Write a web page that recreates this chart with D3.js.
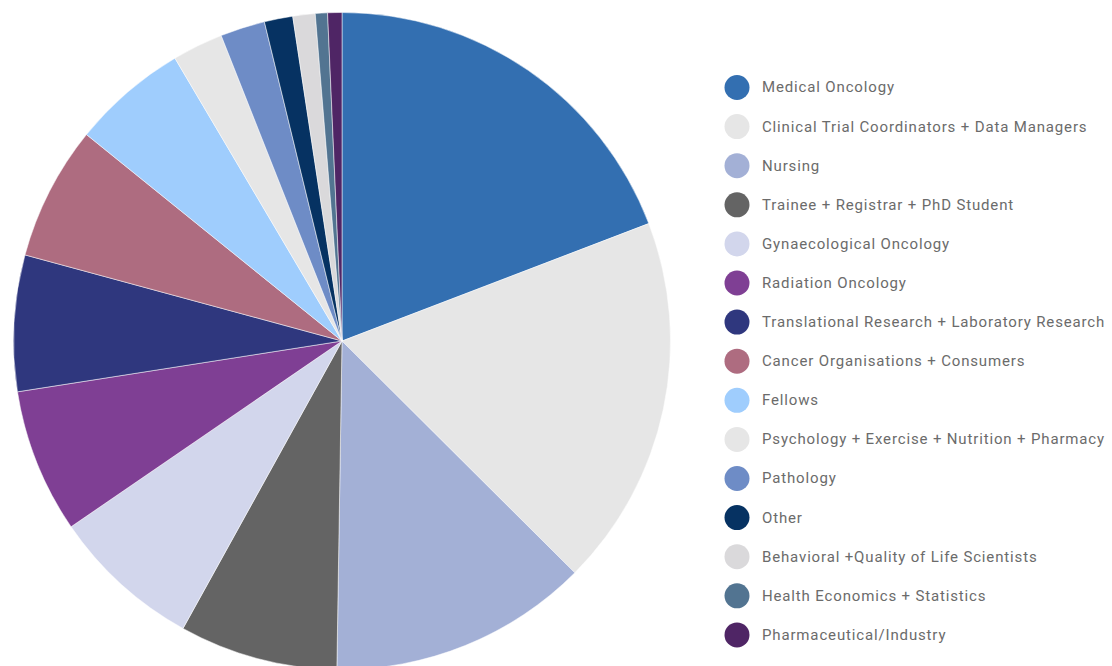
<!DOCTYPE html>
<html>
<head>
<meta charset="utf-8">
<script src="https://cdn.jsdelivr.net/npm/d3@7"></script>
<style>
  body { margin: 0; background: #fff; }
</style>
</head>
<body>
<div id="chart"></div>
<script>
const width = 1112;
const height = 666;

// categories in drawing order (clockwise from 12 o'clock)
const categories = [
  "Medical Oncology",
  "Clinical Trial Coordinators + Data Managers",
  "Nursing",
  "Trainee + Registrar + PhD Student",
  "Gynaecological Oncology",
  "Radiation Oncology",
  "Translational Research + Laboratory Research",
  "Cancer Organisations + Consumers",
  "Fellows",
  "Psychology + Exercise + Nutrition + Pharmacy",
  "Pathology",
  "Other",
  "Behavioral +Quality of Life Scientists",
  "Health Economics + Statistics",
  "Pharmaceutical/Industry"
];

// share of respondents (%)
const values = [19.2, 18.3, 12.8, 7.8, 7.4, 7.1, 6.7, 6.6, 5.7, 2.5, 2.2, 1.4, 1.1, 0.6, 0.7];

const colors = [
  "#336fb1", // medical oncology
  "#e6e6e6",
  "#a3b0d6",
  "#646464",
  "#d2d6ec",
  "#7f3f94",
  "#2f377e",
  "#ae6c80",
  "#9fcdfd",
  "#e6e6e6",
  "#6e8cc6",
  "#063262",
  "#dad9db",
  "#527491",
  "#4f2565"
];

const data = categories.map((c, i) => ({ name: c, value: values[i] }));

const color = d3.scaleOrdinal().domain(categories).range(colors);

const svg = d3.select("#chart")
  .append("svg")
  .attr("width", width)
  .attr("height", height);

const cx = 342, cy = 341, radius = 328.5;

const pie = d3.pie()
  .sort(null)
  .value(d => d.value);

const arc = d3.arc()
  .innerRadius(0)
  .outerRadius(radius);

svg.append("g")
  .attr("transform", `translate(${cx},${cy})`)
  .selectAll("path")
  .data(pie(data))
  .join("path")
  .attr("d", arc)
  .attr("fill", d => color(d.data.name))
  .attr("stroke", "#fff")
  .attr("stroke-width", 0.5);

// legend
const legend = svg.append("g")
  .attr("transform", "translate(737,87.5)");

const rowH = 39.1;

const items = legend.selectAll("g.legend-item")
  .data(categories)
  .join("g")
  .attr("class", "legend-item")
  .attr("transform", (d, i) => `translate(0,${i * rowH})`);

items.append("circle")
  .attr("r", 12.5)
  .attr("fill", d => color(d));

items.append("text")
  .attr("x", 25)
  .attr("dy", "0.33em")
  .style("font-family", "Roboto, sans-serif")
  .style("font-size", "15px")
  .style("letter-spacing", "0.85px")
  .style("fill", "#6b6b6b")
  .text(d => d);
</script>
</body>
</html>
